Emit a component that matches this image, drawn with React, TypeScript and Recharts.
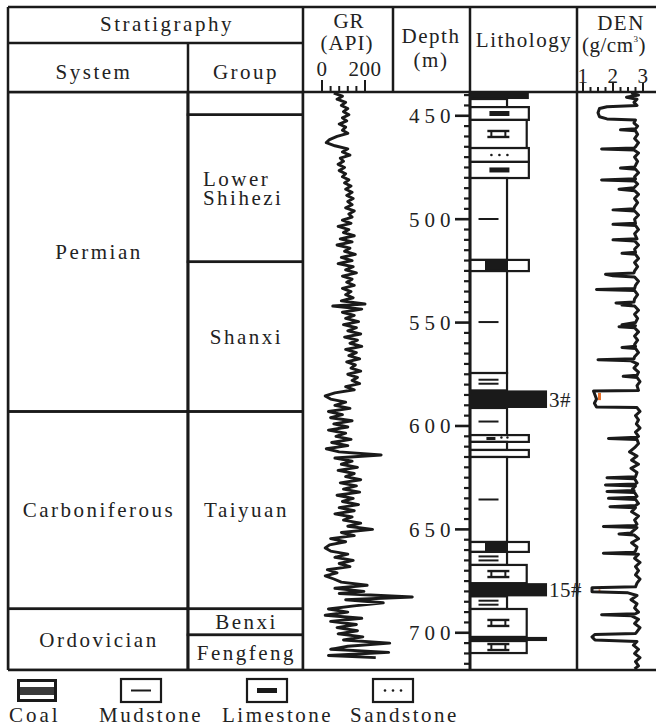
import React from 'react';
import { LineChart, Line, XAxis, YAxis, ComposedChart, ReferenceArea } from 'recharts';

const FONT = '"Liberation Serif", "Times New Roman", serif';
const INK = '#1a1a1a';
const TEXT = '#222';

// depth axis (m)
const DEPTH_DOMAIN: [number, number] = [438.5, 718];
const DEPTH_LABELS = [450, 500, 550, 600, 650, 700];
const DEPTH_TICKS = [
  440, 445, 450, 455, 460, 465, 470, 475, 480, 485, 490, 495, 500, 505, 510, 515, 520, 525, 530,
  535, 540, 545, 550, 555, 560, 565, 570, 575, 580, 585, 590, 595, 600, 605, 610, 615, 620, 625,
  630, 635, 640, 645, 650, 655, 660, 665, 670, 675, 680, 685, 690, 695, 700, 705, 710, 715,
];

// header scales
const GR_TICKS = [0, 40, 80, 120, 160, 200];
const GR_LABELS = [0, 200];
const DEN_TICKS = [1, 1.25, 1.5, 1.75, 2, 2.25, 2.5, 2.75, 3];
const DEN_LABELS = [1, 2, 3];

// stratigraphy units [name, top, base]
const SYSTEMS: [string, number, number][] = [
  ['Permian', 438.5, 593],
  ['Carboniferous', 593, 688.4],
  ['Ordovician', 688.4, 718],
];
const GROUPS: [string, number, number][] = [
  ['', 438.5, 449.5],
  ['Lower\nShihezi', 449.5, 520.6],
  ['Shanxi', 520.6, 593],
  ['Taiyuan', 593, 688.4],
  ['Benxi', 688.4, 701],
  ['Fengfeng', 701, 718],
];

// lithology column [top, base, kind, label]
const LITHO: [number, number, string, string?][] = [
  [438.5, 441.9, 'coalShort'],
  [441.9, 445.8, 'mudPlain'],
  [445.8, 452.0, 'lime'],
  [452.0, 465.6, 'marl'],
  [465.6, 472.3, 'sand'],
  [472.3, 480.1, 'lime'],
  [480.1, 519.7, 'mud'],
  [519.7, 525.1, 'coalBand'],
  [525.1, 574.4, 'mud'],
  [574.4, 582.8, 'silt'],
  [582.8, 591.3, 'coal', '3#'],
  [591.3, 604.4, 'mud'],
  [604.4, 607.7, 'mixed'],
  [607.7, 611.6, 'mudPlain'],
  [611.6, 615.0, 'plainWide'],
  [615.0, 656.1, 'mud'],
  [656.1, 660.9, 'coalBand'],
  [660.9, 667.2, 'silt'],
  [667.2, 676.0, 'marl'],
  [676.0, 682.4, 'coal', '15#'],
  [682.4, 688.5, 'silt'],
  [688.5, 702.0, 'marl'],
  [702.0, 704.0, 'coal'],
  [704.0, 709.8, 'marl'],
];

// GR log [depth m, API]
const GR_LOG: [number, number][] = [
  [439, 55], [440.5, 95], [442, 70], [443.5, 110], [445, 90], [446.5, 120], [448, 100], [449.5, 125],
  [451, 95], [452.5, 115], [454, 80], [455.5, 110], [457, 95], [458.5, 120], [460, 70], [461.5, 35],
  [463, 20], [464.5, 60], [466, 120], [467.5, 95], [469, 130], [470.5, 85], [472, 100], [473.5, 75],
  [475, 105], [476.5, 80], [478, 110], [479.5, 95], [481, 125], [482.5, 105], [484, 135], [485.5, 110],
  [487, 140], [488.5, 115], [490, 145], [491.5, 120], [493, 140], [494.5, 110], [496, 150], [497.5, 125],
  [499, 140], [500.5, 95], [502, 135], [503.5, 75], [505, 125], [506.5, 100], [508, 150], [509.5, 85],
  [511, 140], [512.5, 70], [514, 130], [515.5, 105], [517, 155], [518.5, 90], [520, 140], [521.5, 75],
  [523, 145], [524.5, 110], [526, 160], [527.5, 95], [529, 140], [530.5, 115], [532, 150], [533.5, 95],
  [535, 135], [536.5, 110], [538, 145], [539.5, 90], [541, 200], [542, 50], [543.5, 185], [545, 95],
  [546.5, 150], [548, 110], [549.5, 170], [551, 100], [552.5, 160], [554, 120], [555.5, 180], [557, 105],
  [558.5, 165], [560, 130], [561.5, 185], [563, 110], [564.5, 160], [566, 125], [567.5, 175], [569, 115],
  [570.5, 155], [572, 135], [573.5, 180], [575, 120], [576.5, 165], [578, 140], [579.5, 175], [581, 110],
  [582.5, 150], [584, 60], [585.5, 15], [587, 40], [588.5, 110], [590, 60], [591.5, 130], [593, 30],
  [594.5, 95], [596, 40], [597.5, 140], [599, 55], [600.5, 120], [602, 30], [603.5, 110], [605, 65],
  [606.5, 135], [608, 45], [609.5, 120], [611, 20], [612.5, 80], [614, 275], [615.5, 60], [617, 140],
  [618.5, 90], [620, 165], [621.5, 75], [623, 150], [624.5, 110], [626, 180], [627.5, 85], [629, 160],
  [630.5, 100], [632, 175], [633.5, 70], [635, 145], [636.5, 95], [638, 170], [639.5, 80], [641, 150],
  [642.5, 60], [644, 140], [645.5, 100], [647, 180], [648.5, 120], [650, 235], [651.5, 90], [653, 150],
  [654.5, 40], [656, 110], [657.5, 35], [659, 15], [660.5, 40], [662, 120], [663.5, 60], [665, 145],
  [666.5, 80], [668, 130], [669.5, 25], [671, 70], [672.5, 15], [674, 55], [675.5, 90], [677, 210],
  [678.5, 60], [680, 195], [681, 80], [682.7, 420], [684, 110], [685.5, 285], [687, 150], [688.5, 30],
  [690, 120], [691.5, 15], [693, 185], [694.5, 40], [696, 160], [697.5, 70], [699, 165], [700.5, 75],
  [702, 190], [703.5, 100], [705, 315], [706.5, 120], [708, 40], [709.5, 310], [711, 30], [712, 250],
];

// DEN log [depth m, g/cm3]
const DEN_LOG: [number, number][] = [
  [439, 2.6], [440, 2.85], [441, 2.45], [442, 2.8], [443.5, 2.7], [445, 2.8],
  [445.6, 1.8], [446.5, 1.55], [448.5, 1.5], [450.5, 1.55], [451.5, 1.8], [452, 2.75],
  [453.5, 2.7], [455, 2.82], [456.3, 2.75], [456.8, 2.25], [457.3, 2.75], [459, 2.82], [461, 2.72],
  [463, 2.85], [465, 2.75], [465.6, 2.7], [466.1, 1.62], [466.6, 2.7], [468, 2.85], [470, 2.72],
  [472, 2.82], [474, 2.75], [474.8, 2.72], [475.3, 2.25], [475.8, 2.75], [477.5, 2.85], [479.5, 2.72],
  [480.5, 2.75], [481, 1.62], [481.5, 2.72], [483, 2.82], [484.8, 2.7], [485.5, 2.2], [486.2, 2.72],
  [488, 2.85], [490, 2.72], [492, 2.82], [494, 2.72], [495, 2.7], [495.5, 2.0], [496, 2.72],
  [498, 2.85], [500, 2.72], [502, 2.75], [502.5, 2.0], [503, 2.75], [505, 2.85], [507, 2.72],
  [509.5, 2.8], [510, 2.0], [510.5, 2.72], [512.5, 2.85], [514.5, 2.72], [516, 2.75], [516.5, 2.3],
  [517, 2.75], [519, 2.85], [521, 2.72], [523, 2.82], [525, 2.72], [526, 2.7], [526.6, 1.75],
  [527.4, 2.0], [528, 2.72], [530, 2.85], [532, 2.75], [533.5, 2.72], [534, 1.45], [534.5, 2.72],
  [536.5, 2.82], [538.5, 2.72], [540, 2.7], [540.5, 2.1], [541, 2.6], [541.5, 2.3], [542, 2.72],
  [544, 2.85], [546, 2.72], [548, 2.82], [550, 2.75], [551, 2.3], [551.5, 2.75], [552, 2.2],
  [552.5, 2.72], [554.5, 2.85], [556.5, 2.72], [558.5, 2.82], [560.5, 2.72], [561.5, 2.75], [562, 2.3],
  [562.5, 2.75], [564.5, 2.85], [566.5, 2.72], [567.5, 2.7], [568, 1.5], [568.5, 2.6], [570, 2.82],
  [572, 2.7], [574, 2.85], [575.5, 2.8], [576, 2.34], [576.5, 2.8], [578.5, 2.9], [580.5, 2.8],
  [582.8, 2.85], [583.1, 1.35], [585, 1.4], [587, 1.45], [589, 1.38], [590.8, 1.45], [591.1, 2.8],
  [593, 2.9], [595, 2.75], [597, 2.85], [599, 2.78], [601, 2.9], [603, 2.75], [605, 2.85], [605.5, 2.8],
  [606, 1.85], [606.5, 2.8], [608.5, 2.85], [610.5, 2.72], [612.5, 2.55], [614.5, 2.8], [616.5, 2.62],
  [618.5, 2.85], [620.5, 2.6], [622.5, 2.8], [624.5, 2.75], [625, 1.8], [625.5, 2.72], [627.5, 2.8],
  [628, 2.75], [628.5, 1.75], [629, 2.75], [630.5, 2.65], [631.2, 2.7], [631.7, 1.8], [632.2, 2.72],
  [634, 2.8], [634.5, 2.75], [635, 1.85], [635.5, 2.75], [637.5, 2.85], [638.5, 2.75], [639, 1.9],
  [639.5, 2.75], [641.5, 2.62], [643.5, 2.85], [645.5, 2.72], [647.5, 2.8], [648.1, 2.75], [648.6, 1.68],
  [649.1, 2.8], [651, 2.65], [651.7, 2.6], [652.2, 2.2], [652.7, 2.7], [654.5, 2.85], [656.5, 2.62],
  [658.5, 2.8], [660.5, 2.75], [661, 2.7], [661.5, 1.68], [662, 2.85], [664, 2.72], [666, 2.9],
  [668, 2.75], [670, 2.85], [672, 2.75], [674, 2.9], [676, 2.8], [677.8, 2.75], [678.2, 1.3],
  [680.2, 1.3], [680.7, 2.5], [682, 2.8], [684, 2.6], [686, 2.8], [688, 2.72], [690, 2.85],
  [690.8, 2.75], [691.3, 1.62], [691.8, 2.62], [693.5, 2.85], [695.5, 2.72], [697.5, 2.9], [699.5, 2.8],
  [700.3, 2.75], [700.8, 1.4], [702, 1.3], [703.5, 1.4], [704.2, 2.8], [706, 2.68], [708, 2.85],
  [710, 2.72], [712, 2.9], [714, 2.75], [716, 2.85], [717.5, 2.72],
];

// orange sample marks on DEN [top, base, from, to]
const DEN_MARKS: [number, number, number, number][] = [
  [584, 587.5, 1.5, 1.6],
  [679, 680.6, 1.52, 1.58],
];

// width of each lithology box, % of column
const KIND_WIDTH: Record<string, number> = {
  mud: 34.6, mudPlain: 34.6, silt: 34.6, lime: 55, marl: 53, sand: 55, coal: 72,
  coalShort: 55, coalBand: 55, mixed: 55, plainWide: 55,
};

const SPLIT = 0.61; // system | group column split
const txt = { fontFamily: FONT, fontSize: 21, fill: TEXT, letterSpacing: 2.5 } as const;

const grData = GR_LOG.map(([depth, gr]) => ({ depth, gr }));
const denData = DEN_LOG.map(([depth, den]) => ({ depth, den }));
const depthData = LITHO.map(([depth]) => ({ depth }));

const LithoGlyph = ({ kind, x, y, width, height, label }: any) => {
  const cx = x + width / 2;
  const cy = y + height / 2;
  const box = <rect x={x} y={y} width={width} height={height} fill="#fff" stroke={INK} strokeWidth={2.2} />;
  const dash = (dy: number) => (
    <line x1={cx - 10} x2={cx + 10} y1={cy + dy} y2={cy + dy} stroke={INK} strokeWidth={2} />
  );
  let inner: any = null;
  if (kind === 'coal' || kind === 'coalShort') {
    return (
      <g>
        <rect x={x} y={y} width={width} height={height} fill={INK} />
        {label ? (
          <text {...txt} letterSpacing={0.5} x={x + width + 2} y={cy} dy="0.35em">{label}</text>
        ) : null}
      </g>
    );
  }
  if (kind === 'mud') inner = dash(0);
  if (kind === 'silt') inner = <g>{dash(-2)}{dash(2)}</g>;
  if (kind === 'lime') inner = <rect x={cx - 10} y={cy - 2.5} width={20} height={5} fill={INK} />;
  if (kind === 'coalBand') inner = <rect x={x + 15} y={y} width={23} height={height} fill={INK} />;
  if (kind === 'sand') {
    inner = (
      <g fill={INK}>
        <circle cx={cx - 8} cy={cy} r={1.3} />
        <circle cx={cx} cy={cy} r={1.3} />
        <circle cx={cx + 8} cy={cy} r={1.3} />
      </g>
    );
  }
  if (kind === 'marl') {
    inner = (
      <g stroke={INK}>
        <line x1={cx - 11} x2={cx + 11} y1={cy - 3} y2={cy - 3} strokeWidth={2.4} />
        <line x1={cx - 11} x2={cx + 11} y1={cy + 3} y2={cy + 3} strokeWidth={2.4} />
        <line x1={cx - 7} x2={cx - 7} y1={cy - 3} y2={cy + 3} strokeWidth={2} />
        <line x1={cx + 7} x2={cx + 7} y1={cy - 3} y2={cy + 3} strokeWidth={2} />
      </g>
    );
  }
  if (kind === 'mixed') {
    inner = (
      <g fill={INK}>
        <rect x={cx - 13} y={cy - 1.5} width={9} height={3} />
        <circle cx={cx + 2} cy={cy - 1} r={1.2} />
        <circle cx={cx + 8} cy={cy - 1} r={1.2} />
      </g>
    );
  }
  return <g>{box}{inner}</g>;
};

const StratBox = ({ x, y, width, height, name }: any) => {
  const lines: string[] = name ? name.split('\n') : [];
  const cy = y + height / 2;
  const multi = lines.length > 1;
  const tx = multi ? x + 15 : x + width / 2 + 1;
  const gap = 19;
  return (
    <g>
      <rect x={x} y={y} width={width} height={height} fill="none" stroke={INK} strokeWidth={2.5} />
      <text {...txt} textAnchor={multi ? 'start' : 'middle'} x={tx} y={cy - ((lines.length - 1) * gap) / 2}>
        {lines.map((l, i) => (
          <tspan key={i} x={tx} dy={i === 0 ? '0.35em' : gap}>{l}</tspan>
        ))}
      </text>
    </g>
  );
};

const DepthTick = ({ payload }: any) => {
  const y = payload.coordinate;
  const major = DEPTH_LABELS.includes(payload.value);
  return (
    <g>
      <line x1={major ? 55 : 64} x2={70} y1={y} y2={y} stroke={INK} strokeWidth={major ? 2.6 : 2.2} />
      {major ? (
        <text {...txt} letterSpacing={5} x={9} y={y} dy="0.35em">{payload.value}</text>
      ) : null}
    </g>
  );
};

const makeScaleTick = (labels: number[], tallTop: number, shortTop: number, labelY: number) => ({ payload }: any) => {
  const x = payload.coordinate;
  const major = labels.includes(payload.value);
  return (
    <g>
      <line x1={x} x2={x} y1={92} y2={major ? tallTop : shortTop} stroke={INK} strokeWidth={2} />
      {major ? (
        <text {...txt} letterSpacing={0.5} textAnchor="middle" x={x} y={labelY}>{payload.value}</text>
      ) : null}
    </g>
  );
};
const GrTick = makeScaleTick(GR_LABELS, 80, 86, 76);
const DenTick = makeScaleTick(DEN_LABELS, 83, 87, 83);

const line = (x1: number, y1: number, x2: number, y2: number) => (
  <line x1={x1} y1={y1} x2={x2} y2={y2} stroke={INK} strokeWidth={2.5} />
);

const App = () => {
  return (
    <div style={{ position: 'absolute', left: 0, top: 0, width: 656, height: 727, overflow: 'hidden', background: '#fff' }}>
      <svg width={656} height={727} style={{ position: 'absolute', left: 0, top: 0 }}>
        {/* frame */}
        {line(8, 7, 656, 7)}
        {line(8, 43, 303, 43)}
        {line(8, 92, 656, 92)}
        {line(8, 670, 656, 670)}
        {line(8, 7, 8, 670)}
        {line(188, 43, 188, 670)}
        {line(303, 7, 303, 670)}
        {line(393, 7, 393, 92)}
        {line(470, 7, 470, 92)}
        {line(577, 7, 577, 670)}
        {/* header text */}
        <text {...txt} textAnchor="middle" x={167} y={31}>Stratigraphy</text>
        <text {...txt} textAnchor="middle" x={94} y={79}>System</text>
        <text {...txt} textAnchor="middle" x={246} y={79}>Group</text>
        <text {...txt} letterSpacing={1} textAnchor="middle" x={349} y={28}>GR</text>
        <text {...txt} letterSpacing={1} textAnchor="middle" x={347} y={50}>(API)</text>
        <text {...txt} letterSpacing={1.5} textAnchor="middle" x={431} y={43}>Depth</text>
        <text {...txt} letterSpacing={1.5} textAnchor="middle" x={431} y={67}>(m)</text>
        <text {...txt} letterSpacing={1.5} textAnchor="middle" x={524} y={47}>Lithology</text>
        <text {...txt} letterSpacing={1.5} textAnchor="middle" x={621} y={30}>DEN</text>
        <text {...txt} letterSpacing={0.5} x={582} y={52}>
          (g/cm<tspan fontSize={9} dy={-10}>3</tspan><tspan dy={10}>)</tspan>
        </text>
        {/* legend */}
        <rect x={17} y={679} width={40} height={23} fill={INK} />
        <rect x={20} y={682} width={34} height={17} fill="#fff" />
        <rect x={20} y={687} width={34} height={8} fill="#3a3a3a" />
        <LithoGlyph kind="mud" x={121} y={679} width={40} height={23} />
        <LithoGlyph kind="lime" x={247} y={679} width={40} height={23} />
        <LithoGlyph kind="sand" x={373} y={679} width={40} height={23} />
        <text {...txt} letterSpacing={3} x={9} y={722}>Coal</text>
        <text {...txt} x={99} y={722}>Mudstone</text>
        <text {...txt} x={222} y={722}>Limestone</text>
        <text {...txt} x={350} y={722}>Sandstone</text>
      </svg>

      {/* stratigraphy columns */}
      <div style={{ position: 'absolute', left: 8, top: 92 }}>
        <ComposedChart layout="vertical" width={295} height={578} data={depthData} margin={{ top: 0, right: 0, bottom: 0, left: 0 }}>
          <XAxis type="number" domain={[0, 1]} allowDataOverflow hide />
          <YAxis type="number" dataKey="depth" domain={DEPTH_DOMAIN} allowDataOverflow hide />
          {SYSTEMS.map(([name, top, base]) => (
            <ReferenceArea key={'s' + name} x1={0} x2={SPLIT} y1={top} y2={base} ifOverflow="visible"
              shape={(p: any) => <StratBox {...p} name={name} />} />
          ))}
          {GROUPS.map(([name, top, base]) => (
            <ReferenceArea key={'g' + top} x1={SPLIT} x2={1} y1={top} y2={base} ifOverflow="visible"
              shape={(p: any) => <StratBox {...p} name={name} />} />
          ))}
        </ComposedChart>
      </div>

      {/* GR curve */}
      <div style={{ position: 'absolute', left: 303, top: 0 }}>
        <LineChart layout="vertical" width={167} height={670} data={grData} margin={{ top: 0, right: 0, bottom: 0, left: 0 }}>
          <XAxis type="number" orientation="top" height={92} domain={[-88.37, 688.37]} allowDataOverflow
            ticks={GR_TICKS} interval={0} axisLine={false} tickLine={false} tick={GrTick} />
          <YAxis type="number" dataKey="depth" domain={DEPTH_DOMAIN} allowDataOverflow hide />
          <Line dataKey="gr" stroke={INK} strokeWidth={2.9} strokeLinejoin="round" dot={false} isAnimationActive={false} />
        </LineChart>
      </div>

      {/* depth axis + lithology */}
      <div style={{ position: 'absolute', left: 400, top: 92 }}>
        <ComposedChart layout="vertical" width={197} height={578} data={depthData} margin={{ top: 0, right: 20, bottom: 0, left: 0 }}>
          <XAxis type="number" domain={[0, 100]} allowDataOverflow hide />
          <YAxis type="number" dataKey="depth" domain={DEPTH_DOMAIN} allowDataOverflow width={70}
            ticks={DEPTH_TICKS} interval={0} tickLine={false} axisLine={{ stroke: INK, strokeWidth: 3 }} tick={DepthTick} />
          {LITHO.map(([top, base, kind, label]) => (
            <ReferenceArea key={'l' + top} x1={0} x2={KIND_WIDTH[kind]} y1={top} y2={base} ifOverflow="visible"
              shape={(p: any) => <LithoGlyph {...p} kind={kind} label={label} />} />
          ))}
        </ComposedChart>
      </div>

      {/* DEN curve */}
      <div style={{ position: 'absolute', left: 577, top: 0 }}>
        <LineChart layout="vertical" width={100} height={670} data={denData} margin={{ top: 0, right: 0, bottom: 0, left: 0 }}>
          <XAxis type="number" orientation="top" height={92} domain={[0.8, 4.1333]} allowDataOverflow
            ticks={DEN_TICKS} interval={0} axisLine={false} tickLine={false} tick={DenTick} />
          <YAxis type="number" dataKey="depth" domain={DEPTH_DOMAIN} allowDataOverflow hide />
          <Line dataKey="den" stroke={INK} strokeWidth={3} strokeLinejoin="round" dot={false} isAnimationActive={false} />
          {DEN_MARKS.map(([top, base, a, b]) => (
            <ReferenceArea key={'m' + top} x1={a} x2={b} y1={top} y2={base} fill="#e8702a" fillOpacity={1} stroke="none" />
          ))}
        </LineChart>
      </div>
    </div>
  );
};

export default App;
